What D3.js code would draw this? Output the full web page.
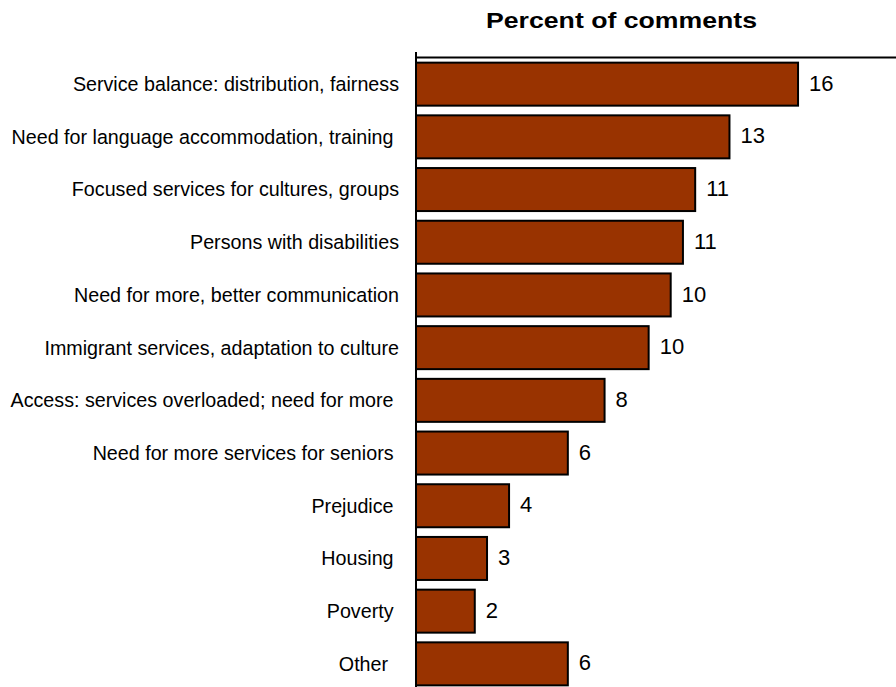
<!DOCTYPE html>
<html>
<head>
<meta charset="utf-8">
<script src="https://cdn.jsdelivr.net/npm/d3@7"></script>
<style>
  html, body { margin: 0; padding: 0; background: #fff; }
  svg { display: block; font-family: "Liberation Sans", Arial, sans-serif; }
</style>
</head>
<body>
<svg id="chart" width="896" height="687"></svg>
<script>
// Comment topics (trailing spaces are part of the original labels)
const categories = [
  "Service balance: distribution, fairness",
  "Need for language accommodation, training ",
  "Focused services for cultures, groups",
  "Persons with disabilities",
  "Need for more, better communication",
  "Immigrant services, adaptation to culture",
  "Access: services overloaded; need for more ",
  "Need for more services for seniors ",
  "Prejudice ",
  "Housing ",
  "Poverty ",
  "Other  "
];

// Share of comments, percent
const percents = [15.6, 12.8, 11.4, 10.9, 10.4, 9.5, 7.7, 6.2, 3.8, 2.9, 2.4, 6.2];

const titleText = "Percent of comments";

const svg = d3.select("#chart");

const x = d3.scaleLinear().domain([0, 19.6]).range([416, 896]);
const y = d3.scaleBand()
  .domain(categories)
  .range([57.8, 690.2])
  .paddingInner(0.184)
  .paddingOuter(0.092);

// Title
svg.append("text")
  .attr("x", 621.5)
  .attr("y", 28)
  .attr("text-anchor", "middle")
  .attr("font-weight", "bold")
  .attr("font-size", 21.5)
  .attr("textLength", 271)
  .attr("lengthAdjust", "spacingAndGlyphs")
  .attr("fill", "#000")
  .text(titleText);

// Category labels
const yAxis = svg.append("g")
  .attr("transform", `translate(${x(0) - 17},0)`)
  .call(d3.axisLeft(y).tickSize(0).tickPadding(0));
yAxis.select(".domain").remove();
yAxis.selectAll("text")
  .attr("font-size", 19.7)
  .attr("font-family", "'Liberation Sans', Arial, sans-serif")
  .attr("fill", "#000")
  .attr("dy", "0.35em")
  .style("white-space", "pre");

// Bars
svg.append("g")
  .selectAll("rect")
  .data(percents)
  .join("rect")
  .attr("x", x(0))
  .attr("y", (d, i) => y(categories[i]))
  .attr("width", d => x(d) - x(0))
  .attr("height", y.bandwidth())
  .attr("fill", "#993300")
  .attr("stroke", "#000")
  .attr("stroke-width", 2);

// Value labels
svg.append("g")
  .selectAll("text")
  .data(percents)
  .join("text")
  .attr("x", d => x(d) + 11)
  .attr("y", (d, i) => y(categories[i]) + y.bandwidth() / 2)
  .attr("dy", "0.3em")
  .attr("font-size", 22)
  .attr("fill", "#000")
  .text(d => d3.format(".0f")(d));

// Top axis line
const topAxis = svg.append("g")
  .attr("transform", `translate(0,${y.range()[0] - 0.8})`)
  .call(d3.axisTop(x).tickValues([]).tickSizeOuter(0));
topAxis.select(".domain").attr("stroke", "#000").attr("stroke-width", 2);

// Left axis line
svg.append("line")
  .attr("x1", x(0)).attr("x2", x(0))
  .attr("y1", 52).attr("y2", 700)
  .attr("stroke", "#000")
  .attr("stroke-width", 2);
</script>
</body>
</html>
